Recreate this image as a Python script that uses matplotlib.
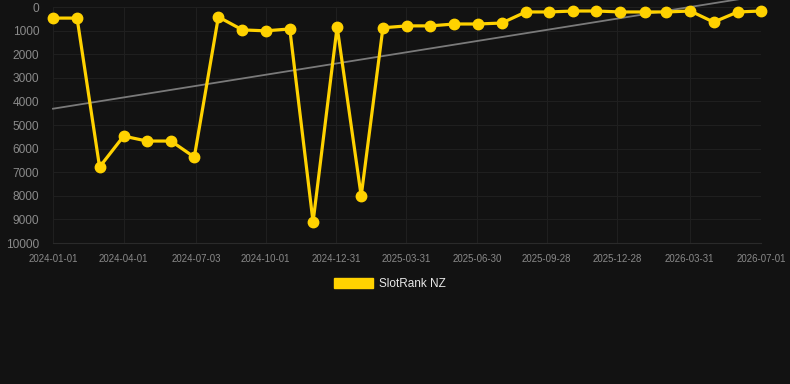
import matplotlib
matplotlib.use("Agg")
import matplotlib.pyplot as plt
import matplotlib.dates as mdates
import numpy as np
import datetime as dt

dates = ["2024-01-01","2024-02-01","2024-03-01","2024-04-01","2024-05-01","2024-06-01",
         "2024-07-01","2024-08-01","2024-09-01","2024-10-01","2024-11-01","2024-12-01",
         "2025-01-01","2025-02-01","2025-03-01","2025-04-01","2025-05-01","2025-06-01",
         "2025-07-01","2025-08-01","2025-09-01","2025-10-01","2025-11-01","2025-12-01",
         "2026-01-01","2026-02-01","2026-03-01","2026-04-01","2026-05-01","2026-06-01",
         "2026-07-01"]
ranks = [470, 470, 6780, 5470, 5680, 5680, 6360, 420, 970, 1010, 930, 9110,
         840, 8010, 880, 800, 800, 720, 720, 680, 210, 210, 170, 170,
         210, 210, 210, 170, 640, 210, 170]
trend_dates = ["2024-01-01", "2026-07-01"]
trend_values = [4310, -480]
tick_labels = ["2024-01-01","2024-04-01","2024-07-03","2024-10-01","2024-12-31",
               "2025-03-31","2025-06-30","2025-09-28","2025-12-28","2026-03-31","2026-07-01"]
yticks = list(range(0, 10001, 1000))

to_d = lambda s: dt.datetime.strptime(s, "%Y-%m-%d")
x = [to_d(s) for s in dates]
tx = [to_d(s) for s in trend_dates]
xt = [to_d(s) for s in tick_labels]

bg = "#121212"
plt.rcParams['font.family'] = ['Liberation Sans', 'DejaVu Sans']
fig = plt.figure(figsize=(7.9, 3.84), dpi=100, facecolor=bg)
ax = fig.add_axes([53/790, 1-243/384, (761-53)/790, (243-7)/384], facecolor=bg)

ax.plot(tx, trend_values, color="#7a7a7a", lw=1.3, zorder=2, clip_on=False)
ax.plot(x, ranks, color="#FFD200", lw=2.3, marker="o", markersize=7.5,
        solid_joinstyle="miter", zorder=3, clip_on=False, label="SlotRank NZ")

ax.set_ylim(10000, 0)
ax.set_xlim(xt[0], xt[-1])
ax.set_yticks(yticks)
ax.set_yticklabels([str(v) for v in yticks])
ax.set_xticks(xt)
ax.set_xticklabels(tick_labels)
ax.grid(True, color="#1f1f1f", lw=0.8)
ax.set_axisbelow(True)
for s in ax.spines.values():
    s.set_visible(False)
ax.spines["bottom"].set_visible(True)
ax.spines["bottom"].set_color("#2a2a2a")
ax.spines["bottom"].set_linewidth(0.8)
ax.tick_params(axis="y", colors="#8a8a8a", labelsize=8.6, length=0, pad=10)
ax.tick_params(axis="x", colors="#8a8a8a", labelsize=6.9, length=0, pad=8)

leg = fig.legend(handles=[plt.Rectangle((0, 0), 1, 1, color="#FFD200")],
                 labels=["SlotRank NZ"], loc="center", bbox_to_anchor=(390/790, 1-284/384),
                 frameon=False, fontsize=8.5, handlelength=3.3, handleheight=0.9,
                 labelcolor="#e8e8e8", handletextpad=0.5)

fig.savefig("out.png", dpi=100, facecolor=bg)
